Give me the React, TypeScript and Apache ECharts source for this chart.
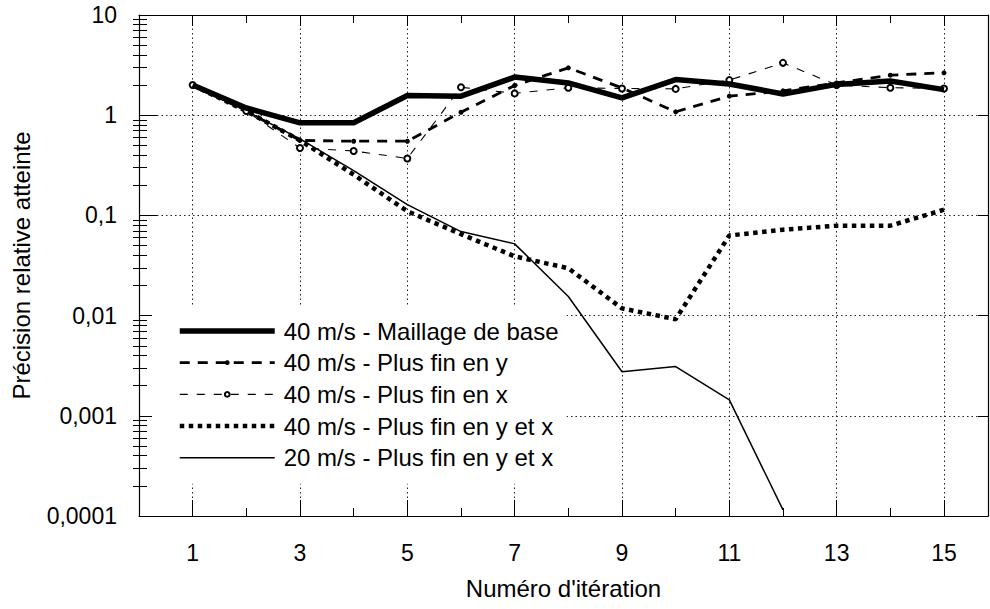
import React, { useEffect, useRef } from "react";
import * as echarts from "echarts";

// ---- data ----
const iterations = [1, 2, 3, 4, 5, 6, 7, 8, 9, 10, 11, 12, 13, 14, 15];
const seriesNames = [
  "40 m/s - Maillage de base",
  "40 m/s - Plus fin en y",
  "40 m/s - Plus fin en x",
  "40 m/s - Plus fin en y et x",
  "20 m/s - Plus fin en y et x",
];
const baseMesh40 = [2.0, 1.18, 0.84, 0.84, 1.57, 1.55, 2.4, 2.1, 1.49, 2.27, 2.05, 1.63, 2.03, 2.19, 1.8];
const finerY40 = [2.0, 1.1, 0.56, 0.55, 0.55, 1.07, 1.98, 2.97, 1.87, 1.08, 1.55, 1.75, 2.1, 2.51, 2.65];
const finerX40 = [2.0, 1.1, 0.47, 0.44, 0.37, 1.9, 1.65, 1.88, 1.85, 1.83, 2.24, 3.33, 2.0, 1.88, 1.85];
const finerYX40 = [2.0, 1.1, 0.56, 0.255, 0.11, 0.065, 0.039, 0.0297, 0.0118, 0.0092, 0.063, 0.072, 0.079, 0.079, 0.114];
const finerYX20 = [2.0, 1.1, 0.58, 0.28, 0.128, 0.069, 0.052, 0.0155, 0.00275, 0.0031, 0.00144, 0.000115];

const xMajorTicks = [1, 3, 5, 7, 9, 11, 13, 15];
const xMinorTicks = [2, 4, 6, 8, 10, 12, 14];
const yDecades = [0.0001, 0.001, 0.01, 0.1, 1, 10];
const yDecadeLabels = ["0,0001", "0,001", "0,01", "0,1", "1", "10"];
const yMinorMultipliers = [2, 3, 4, 5, 6, 7, 8, 9];

const xTitle = "Numéro d'itération";
const yTitle = "Précision relative atteinte";

const X_MIN = 0;
const X_MAX = 15.82;
const FONT = "'Liberation Sans', Arial, Helvetica, sans-serif";

function pairs(values: number[]) {
  return values.map((v, i) => [iterations[i], v]);
}

export default function App() {
  const ref = useRef<HTMLDivElement>(null);

  useEffect(() => {
    document.body.style.margin = "0";
    document.body.style.overflow = "hidden";
    if (!ref.current) return;
    const chart = echarts.init(ref.current, undefined, { renderer: "svg" });

    const black = "#000";
    const dotted = { color: "#222", width: 1, type: [1.5, 3] as any };
    const minorExp: number[] = [];
    yDecades.slice(0, -1).forEach((d) =>
      yMinorMultipliers.forEach((m) => minorExp.push(Math.log10(d * m)))
    );

    const labelFormatter = (v: number) => {
      const idx = yDecades.findIndex((d) => Math.abs(Math.log10(d) - Math.log10(v)) < 1e-6);
      return idx >= 0 ? yDecadeLabels[idx] : "";
    };

    const hiddenX = (position: string, ticks: number[], len: number, showLine: boolean) => ({
      type: "value",
      gridIndex: 0,
      position,
      min: X_MIN,
      max: X_MAX,
      axisLine: { show: showLine, onZero: false, lineStyle: { color: black, width: 1.2 } },
      axisTick: { show: true, inside: true, length: len, customValues: ticks, lineStyle: { color: black, width: 1 } },
      axisLabel: { show: false },
      splitLine: { show: false },
    });

    const option: any = {
      animation: false,
      backgroundColor: "#fff",
      textStyle: { fontFamily: FONT },
      grid: { left: 139, top: 15, width: 849, height: 501, containLabel: false, outerBoundsMode: "none" },
      xAxis: [
        {
          type: "value",
          gridIndex: 0,
          position: "bottom",
          min: X_MIN,
          max: X_MAX,
          name: xTitle,
          nameLocation: "middle",
          nameGap: 60,
          nameTextStyle: { fontSize: 24, color: black, fontFamily: FONT },
          axisLine: { show: true, onZero: false, lineStyle: { color: black, width: 1.2 } },
          axisTick: { show: true, inside: true, length: 16, customValues: xMajorTicks, lineStyle: { color: black, width: 1 } },
          axisLabel: { show: true, customValues: xMajorTicks, margin: 25, fontSize: 23, color: black, fontFamily: FONT },
          splitLine: { show: true, lineStyle: dotted },
        },
        hiddenX("bottom", xMinorTicks, 8, false),
        hiddenX("top", xMajorTicks, 11, true),
        hiddenX("top", xMinorTicks, 8, false),
      ],
      yAxis: [
        {
          type: "log",
          logBase: 10,
          gridIndex: 0,
          position: "left",
          min: yDecades[0],
          max: yDecades[yDecades.length - 1],
          name: yTitle,
          nameLocation: "middle",
          nameGap: 106,
          nameTextStyle: { fontSize: 24, color: black, fontFamily: FONT },
          axisLine: { show: true, onZero: false, lineStyle: { color: black, width: 1.2 } },
          axisTick: { show: true, inside: true, length: 18, lineStyle: { color: black, width: 1 } },
          axisLabel: { show: true, margin: 22, fontSize: 23, color: black, fontFamily: FONT, formatter: labelFormatter },
          splitLine: { show: true, lineStyle: dotted },
        },
        {
          type: "value",
          gridIndex: 0,
          position: "left",
          min: Math.log10(yDecades[0]),
          max: Math.log10(yDecades[yDecades.length - 1]),
          axisLine: { show: false },
          axisTick: { show: true, inside: true, length: 8, customValues: minorExp, lineStyle: { color: black, width: 1 } },
          axisLabel: { show: false },
          splitLine: { show: false },
        },
        {
          type: "log",
          logBase: 10,
          gridIndex: 0,
          position: "right",
          min: yDecades[0],
          max: yDecades[yDecades.length - 1],
          axisLine: { show: true, onZero: false, lineStyle: { color: black, width: 1.2 } },
          axisTick: { show: true, inside: true, length: 10, lineStyle: { color: black, width: 1 } },
          axisLabel: { show: false },
          splitLine: { show: false },
        },
        {
          type: "value",
          gridIndex: 0,
          position: "right",
          min: Math.log10(yDecades[0]),
          max: Math.log10(yDecades[yDecades.length - 1]),
          axisLine: { show: false },
          axisTick: { show: true, inside: true, length: 6, customValues: minorExp, lineStyle: { color: black, width: 1 } },
          axisLabel: { show: false },
          splitLine: { show: false },
        },
      ],
      legend: {
        orient: "vertical",
        left: 152,
        top: 305,
        padding: [14, 8, 14, 25],
        backgroundColor: "#fff",
        itemWidth: 95,
        itemHeight: 6,
        itemGap: 7.7,
        selectedMode: false,
        textStyle: { fontSize: 24, color: black, fontFamily: FONT, padding: [0, 0, 0, 4] },
        lineStyle: { width: "inherit", type: "inherit" },
        data: [
          { name: seriesNames[0], itemStyle: { opacity: 0 } },
          { name: seriesNames[1] },
          { name: seriesNames[2] },
          { name: seriesNames[3], itemStyle: { opacity: 0 } },
          { name: seriesNames[4], itemStyle: { opacity: 0 } },
        ],
      },
      series: [
        {
          type: "line",
          name: seriesNames[0],
          data: pairs(baseMesh40),
          symbol: "none",
          z: 4,
          lineStyle: { color: black, width: 5.5, join: "round" },
          itemStyle: { color: black },
        },
        {
          type: "line",
          name: seriesNames[1],
          data: pairs(finerY40),
          symbol: "circle",
          symbolSize: 5,
          z: 3,
          lineStyle: { color: black, width: 2.8, type: [10, 8] },
          itemStyle: { color: black },
        },
        {
          type: "line",
          name: seriesNames[2],
          data: pairs(finerX40),
          symbol: "emptyCircle",
          symbolSize: 6,
          z: 3,
          lineStyle: { color: black, width: 1.1, type: [8, 9] },
          itemStyle: { color: black, borderWidth: 1 },
        },
        {
          type: "line",
          name: seriesNames[3],
          data: pairs(finerYX40),
          symbol: "none",
          z: 3,
          lineStyle: { color: black, width: 4.5, type: [4.5, 4.5] },
          itemStyle: { color: black },
        },
        {
          type: "line",
          name: seriesNames[4],
          data: pairs(finerYX20),
          symbol: "none",
          z: 3,
          lineStyle: { color: black, width: 1.5 },
          itemStyle: { color: black },
        },
      ],
    };

    chart.setOption(option);
    return () => chart.dispose();
  }, []);

  return <div ref={ref} style={{ width: 990, height: 609, background: "#fff" }} />;
}
